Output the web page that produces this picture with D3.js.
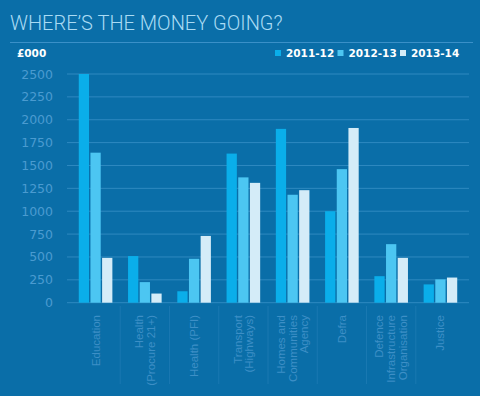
<!DOCTYPE html>
<html><head><meta charset="utf-8">
<script src="https://cdn.jsdelivr.net/npm/d3@7"></script>
<style>
html,body{margin:0;padding:0;background:#0a6ea8;}
svg{display:block;}
</style>
</head><body>
<svg id="chart" width="480" height="396"></svg>
<script>
const categories = [
  ["Education"],
  ["Health", "(Procure 21+)"],
  ["Health (PFI)"],
  ["Transport", "(Highways)"],
  ["Homes and", "Communities", "Agency"],
  ["Defra"],
  ["Defence", "Infrastructure", "Organisation"],
  ["Justice"]
];
const seriesNames = ["2011-12", "2012-13", "2013-14"];
const values2011 = [2500, 510, 125, 1630, 1900, 1000, 290, 200];
const values2012 = [1640, 225, 480, 1370, 1180, 1460, 640, 255];
const values2013 = [490, 100, 730, 1310, 1230, 1910, 490, 275];
const yTicks = [0, 250, 500, 750, 1000, 1250, 1500, 1750, 2000, 2250, 2500];
const colors = ["#0aaeea", "#4cc6f2", "#d4ecf8"];

const svg = d3.select("#chart");
const W = 480, H = 396;
svg.append("rect").attr("width", W).attr("height", H).attr("fill", "#0a6ea8");

// Title
svg.append("text").attr("x", 10).attr("y", 30)
  .attr("font-family", "Roboto, 'Liberation Sans', sans-serif")
  .attr("font-weight", 300).attr("font-size", 20)
  .attr("fill", "#a9dbf4")
  .text("WHERE\u2019S THE MONEY GOING?");
svg.append("line").attr("x1", 10).attr("x2", 473).attr("y1", 42.5).attr("y2", 42.5)
  .attr("stroke", "#3a90c8").attr("stroke-width", 1);

svg.append("text").attr("x", 17).attr("y", 57)
  .attr("font-family", "'DejaVu Sans', sans-serif").attr("font-weight", "bold")
  .attr("font-size", 10.5).attr("fill", "#ffffff").text("£000");

// Legend
const legend = svg.append("g");
let lx = 275;
seriesNames.forEach((s, i) => {
  legend.append("rect").attr("x", lx).attr("y", 50).attr("width", 6).attr("height", 6).attr("fill", colors[i]);
  legend.append("text").attr("x", lx + 11).attr("y", 57)
    .attr("font-family", "'DejaVu Sans', sans-serif").attr("font-weight", "bold")
    .attr("font-size", 10.5).attr("fill", "#ffffff").text(s);
  lx += 62.5;
});

// Scales
const plotLeft = 67, plotRight = 469, plotTop = 74, plotBottom = 302.7;
const y = d3.scaleLinear().domain([0, 2500]).range([plotBottom, plotTop]);
const x0 = d3.scalePoint().domain(d3.range(categories.length)).range([plotLeft, plotRight]).padding(0.58);
const x1 = d3.scaleBand().domain(d3.range(seriesNames.length)).range([-16.8, 16.8]).paddingInner(0.12);

// Gridlines
svg.append("g").selectAll("line").data(yTicks).join("line")
  .attr("x1", plotLeft).attr("x2", plotRight)
  .attr("y1", d => y(d)).attr("y2", d => y(d))
  .attr("stroke", "#2f89c0").attr("stroke-width", 1);

// Y axis labels
const yAxis = d3.axisLeft(y).tickValues(yTicks).tickFormat(d3.format("d")).tickSize(0).tickPadding(0);
const ya = svg.append("g").attr("transform", `translate(53,0)`).call(yAxis);
ya.select(".domain").remove();
ya.selectAll("text").attr("font-family", "'DejaVu Sans', sans-serif")
  .attr("font-size", 12.5).attr("fill", "#4a9bd0");

// Bars
const series = [values2011, values2012, values2013];
series.forEach((vals, si) => {
  svg.append("g").selectAll("rect").data(vals).join("rect")
    .attr("x", (d, i) => x0(i) + x1(si))
    .attr("width", x1.bandwidth())
    .attr("y", d => y(d))
    .attr("height", d => plotBottom - y(d))
    .attr("fill", colors[si]);
});

// Category separators
const step = x0.step();
svg.append("g").selectAll("line").data(d3.range(1, categories.length)).join("line")
  .attr("x1", i => x0(i) - step / 2).attr("x2", i => x0(i) - step / 2)
  .attr("y1", 306).attr("y2", 384)
  .attr("stroke", "#1a78b1").attr("stroke-width", 1);

// Category labels (rotated)
const lab = svg.append("g").selectAll("g").data(categories).join("g")
  .attr("transform", (d, i) => `translate(${x0(i)},315) rotate(-90)`);
lab.each(function(lines) {
  const g = d3.select(this);
  const n = lines.length;
  lines.forEach((ln, k) => {
    g.append("text").attr("x", 0)
      .attr("y", (k - (n - 1) / 2) * 11.7 + 4)
      .attr("text-anchor", "end")
      .attr("font-family", "'Liberation Sans', Arial, sans-serif")
      .attr("font-size", 11.5).attr("fill", "#3d8fc6")
      .text(ln);
  });
});
</script>
</body></html>
